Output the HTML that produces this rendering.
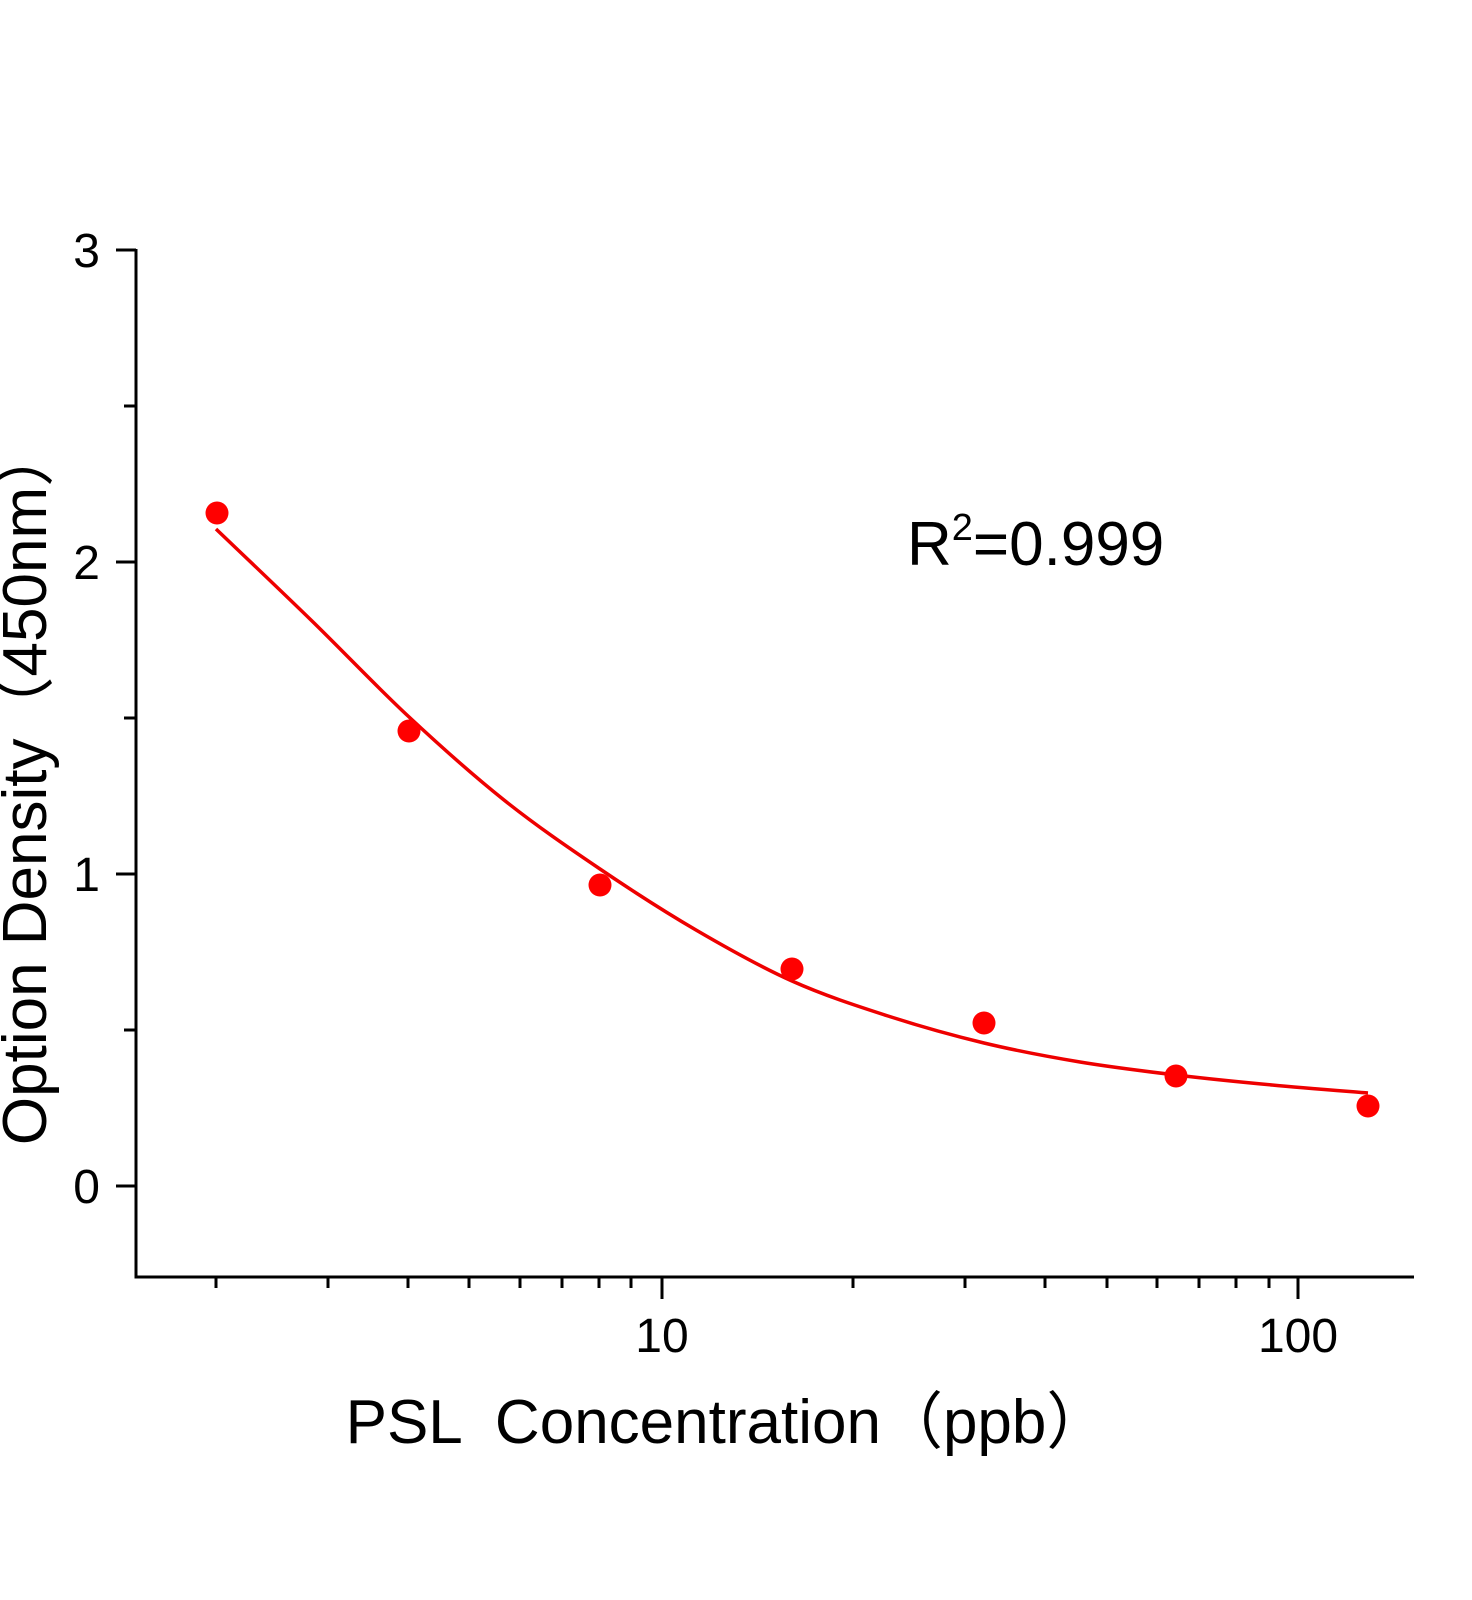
<!DOCTYPE html><html><head><style>body{margin:0;background:#fff}svg{display:block}</style></head><body>
<svg width="1472" height="1600" xmlns="http://www.w3.org/2000/svg" font-family="'Liberation Sans','DejaVu Sans',sans-serif">
<rect width="1472" height="1600" fill="#fff"/>
<g stroke="#000" stroke-width="3" fill="none">
<path d="M136,249 V1277 H1414"/>
<path d="M116,250H136M116,562H136M116,874H136M116,1186H136M124,406H136M124,718H136M124,1030H136"/>
<path d="M662,1277V1299M1298,1277V1299"/>
<path d="M216,1277v11M328,1277v11M408,1277v11M469,1277v11M520,1277v11M562,1277v11M599,1277v11M631,1277v11M853,1277v11M965,1277v11M1045,1277v11M1107,1277v11M1157,1277v11M1199,1277v11M1236,1277v11M1269,1277v11"/>
</g>
<g font-size="48" text-anchor="end" fill="#000">
<text x="100" y="267">3</text><text x="100" y="579">2</text><text x="100" y="891">1</text><text x="100" y="1203">0</text>
</g>
<g font-size="48" text-anchor="middle" fill="#000">
<text x="662" y="1352">10</text><text x="1298" y="1352">100</text>
</g>
<text x="727" y="1443" font-size="62" text-anchor="middle" fill="#000" xml:space="preserve">PSL  Concentration（ppb）</text>
<text transform="translate(46,785) rotate(-90)" font-size="62" text-anchor="middle" fill="#000">Option Density（450nm）</text>
<text x="907" y="565" font-size="62" fill="#000">R<tspan font-size="38" dy="-25">2</tspan><tspan dy="25">=0.999</tspan></text>
<path id="fit" d="" stroke="#ee0000" stroke-width="3.5" fill="none"/>
<g fill="#ff0000">
<circle cx="217" cy="513" r="11.5"/><circle cx="409" cy="731" r="11.5"/><circle cx="600" cy="885" r="11.5"/><circle cx="792" cy="969" r="11.5"/><circle cx="984" cy="1023" r="11.5"/><circle cx="1176" cy="1076" r="11.5"/><circle cx="1368" cy="1106" r="11.5"/>
</g>
</svg>
<script>
var p=[[216,529],[312,621],[408,716],[504,800],[600,869],[696,930],[792,981],[888,1016],[984,1043],[1080,1062],[1176,1075],[1272,1085],[1368,1093]];
var d="M"+p[0][0]+","+p[0][1];
for(var i=0;i<p.length-1;i++){var a=p[Math.max(i-1,0)],b=p[i],c=p[i+1],e=p[Math.min(i+2,p.length-1)];
d+=" C"+(b[0]+(c[0]-a[0])/6)+","+(b[1]+(c[1]-a[1])/6)+" "+(c[0]-(e[0]-b[0])/6)+","+(c[1]-(e[1]-b[1])/6)+" "+c[0]+","+c[1];}
document.getElementById("fit").setAttribute("d",d);
</script>
</body></html>
